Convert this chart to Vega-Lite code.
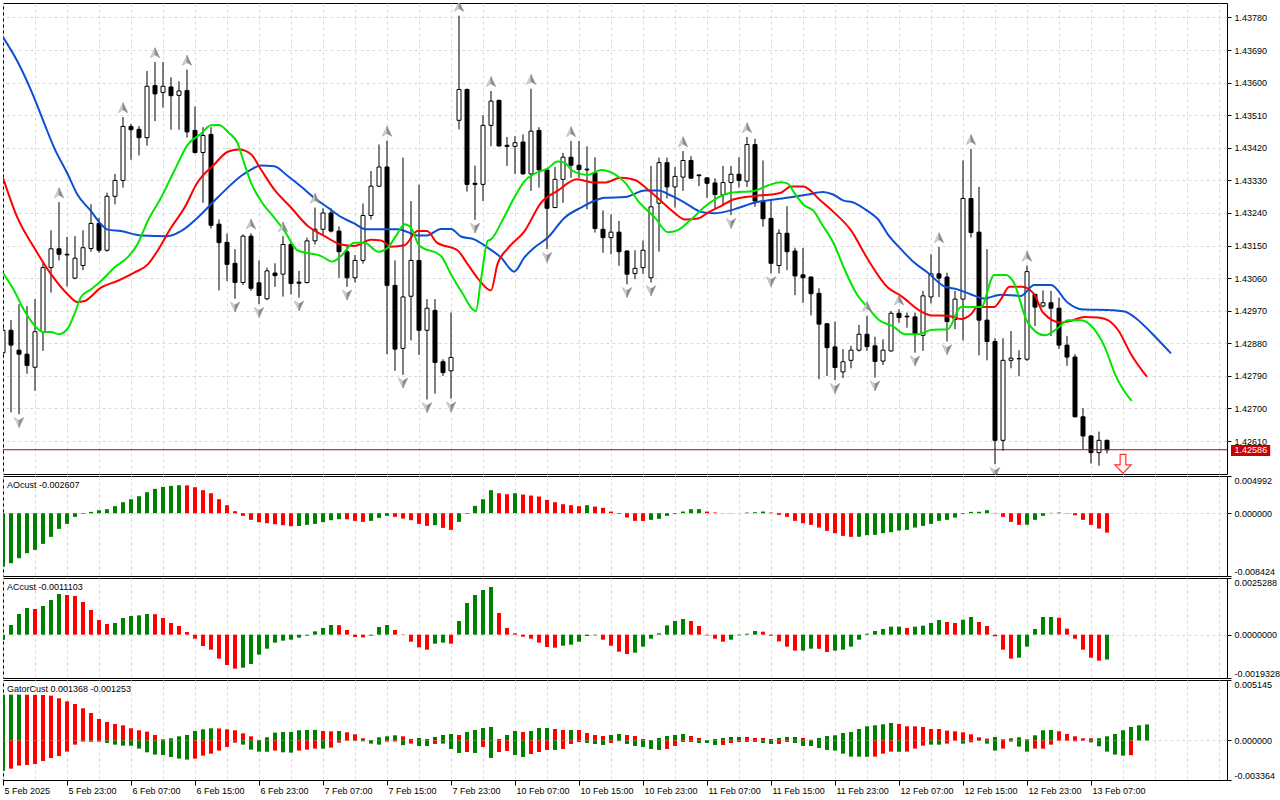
{
  "$schema": "https://vega.github.io/schema/vega-lite/v6.json",
  "background": "white",
  "padding": {"left": 2, "top": 2, "right": 0, "bottom": 0},
  "spacing": 2,
  "bounds": "flush",
  "config": {
    "view": {"stroke": "black", "strokeWidth": 1},
    "font": "Liberation Sans",
    "scale": {"continuousPadding": 0},
    "axis": {"labelFont": "Liberation Sans", "labelFontSize": 9, "labelColor": "black", "tickColor": "black", "gridColor": "#dadada", "gridDash": [3, 3], "labelOverlap": false},
    "text": {"font": "Liberation Sans", "fontSize": 9}
  },
  "resolve": {"scale": {"x": "independent", "y": "independent", "color": "independent"}},
  "datasets": {
    "candles": [
      {"i":0,"o":1.42854,"h":1.42928,"l":1.42841,"c":1.42916},
      {"i":1,"o":1.42916,"h":1.42944,"l":1.42689,"c":1.42875},
      {"i":2,"o":1.42861,"h":1.42988,"l":1.42684,"c":1.42850},
      {"i":3,"o":1.42850,"h":1.42983,"l":1.42796,"c":1.42819},
      {"i":4,"o":1.42814,"h":1.43002,"l":1.42749,"c":1.42912},
      {"i":5,"o":1.42912,"h":1.43107,"l":1.42859,"c":1.43089},
      {"i":6,"o":1.43089,"h":1.43192,"l":1.43020,"c":1.43141},
      {"i":7,"o":1.43141,"h":1.43270,"l":1.43109,"c":1.43126},
      {"i":8,"o":1.43126,"h":1.43174,"l":1.43037,"c":1.43124},
      {"i":9,"o":1.43060,"h":1.43176,"l":1.43057,"c":1.43115},
      {"i":10,"o":1.43095,"h":1.43192,"l":1.43082,"c":1.43144},
      {"i":11,"o":1.43142,"h":1.43264,"l":1.43133,"c":1.43211},
      {"i":12,"o":1.43211,"h":1.43227,"l":1.43130,"c":1.43137},
      {"i":13,"o":1.43137,"h":1.43296,"l":1.43133,"c":1.43286},
      {"i":14,"o":1.43286,"h":1.43348,"l":1.43264,"c":1.43330},
      {"i":15,"o":1.43330,"h":1.43505,"l":1.43310,"c":1.43479},
      {"i":16,"o":1.43479,"h":1.43486,"l":1.43387,"c":1.43470},
      {"i":17,"o":1.43471,"h":1.43480,"l":1.43399,"c":1.43448},
      {"i":18,"o":1.43448,"h":1.43632,"l":1.43426,"c":1.43590},
      {"i":19,"o":1.43592,"h":1.43657,"l":1.43494,"c":1.43569},
      {"i":20,"o":1.43573,"h":1.43657,"l":1.43531,"c":1.43590},
      {"i":21,"o":1.43588,"h":1.43615,"l":1.43470,"c":1.43564},
      {"i":22,"o":1.43565,"h":1.43604,"l":1.43470,"c":1.43577},
      {"i":23,"o":1.43578,"h":1.43636,"l":1.43448,"c":1.43464},
      {"i":24,"o":1.43468,"h":1.43534,"l":1.43404,"c":1.43407},
      {"i":25,"o":1.43407,"h":1.43477,"l":1.43268,"c":1.43454},
      {"i":26,"o":1.43457,"h":1.43477,"l":1.43197,"c":1.43206},
      {"i":27,"o":1.43209,"h":1.43222,"l":1.43026,"c":1.43158},
      {"i":28,"o":1.43159,"h":1.43183,"l":1.43052,"c":1.43098},
      {"i":29,"o":1.43101,"h":1.43140,"l":1.43003,"c":1.43048},
      {"i":30,"o":1.43048,"h":1.43181,"l":1.43041,"c":1.43176},
      {"i":31,"o":1.43176,"h":1.43184,"l":1.43025,"c":1.43032},
      {"i":32,"o":1.43047,"h":1.43109,"l":1.42988,"c":1.43012},
      {"i":33,"o":1.43003,"h":1.43089,"l":1.42999,"c":1.43080},
      {"i":34,"o":1.43074,"h":1.43101,"l":1.43036,"c":1.43067},
      {"i":35,"o":1.43071,"h":1.43176,"l":1.43009,"c":1.43153},
      {"i":36,"o":1.43153,"h":1.43158,"l":1.43015,"c":1.43045},
      {"i":37,"o":1.43049,"h":1.43080,"l":1.43006,"c":1.43046},
      {"i":38,"o":1.43048,"h":1.43172,"l":1.43045,"c":1.43163},
      {"i":39,"o":1.43163,"h":1.43255,"l":1.43153,"c":1.43195},
      {"i":40,"o":1.43195,"h":1.43253,"l":1.43181,"c":1.43240},
      {"i":41,"o":1.43240,"h":1.43253,"l":1.43186,"c":1.43190},
      {"i":42,"o":1.43190,"h":1.43203,"l":1.43061,"c":1.43133},
      {"i":43,"o":1.43133,"h":1.43149,"l":1.43036,"c":1.43061},
      {"i":44,"o":1.43061,"h":1.43124,"l":1.43048,"c":1.43109},
      {"i":45,"o":1.43109,"h":1.43266,"l":1.43100,"c":1.43233},
      {"i":46,"o":1.43233,"h":1.43356,"l":1.43222,"c":1.43314},
      {"i":47,"o":1.43314,"h":1.43429,"l":1.43312,"c":1.43367},
      {"i":48,"o":1.43367,"h":1.43440,"l":1.42850,"c":1.43040},
      {"i":49,"o":1.43040,"h":1.43109,"l":1.42804,"c":1.42864},
      {"i":50,"o":1.42866,"h":1.43393,"l":1.42793,"c":1.43008},
      {"i":51,"o":1.43010,"h":1.43273,"l":1.42888,"c":1.43109},
      {"i":52,"o":1.43109,"h":1.43318,"l":1.42848,"c":1.42916},
      {"i":53,"o":1.42916,"h":1.43002,"l":1.42725,"c":1.42977},
      {"i":54,"o":1.42971,"h":1.43002,"l":1.42741,"c":1.42827},
      {"i":55,"o":1.42829,"h":1.42836,"l":1.42790,"c":1.42799},
      {"i":56,"o":1.42804,"h":1.42965,"l":1.42727,"c":1.42841},
      {"i":57,"o":1.43496,"h":1.43785,"l":1.43471,"c":1.43581},
      {"i":58,"o":1.43581,"h":1.43584,"l":1.43299,"c":1.43319},
      {"i":59,"o":1.43322,"h":1.43371,"l":1.43221,"c":1.43319},
      {"i":60,"o":1.43319,"h":1.43510,"l":1.43273,"c":1.43482},
      {"i":61,"o":1.43482,"h":1.43577,"l":1.43424,"c":1.43549},
      {"i":62,"o":1.43551,"h":1.43553,"l":1.43424,"c":1.43425},
      {"i":63,"o":1.43427,"h":1.43450,"l":1.43370,"c":1.43424},
      {"i":64,"o":1.43424,"h":1.43452,"l":1.43348,"c":1.43434},
      {"i":65,"o":1.43436,"h":1.43457,"l":1.43345,"c":1.43348},
      {"i":66,"o":1.43348,"h":1.43583,"l":1.43301,"c":1.43466},
      {"i":67,"o":1.43468,"h":1.43477,"l":1.43310,"c":1.43359},
      {"i":68,"o":1.43359,"h":1.43361,"l":1.43140,"c":1.43253},
      {"i":69,"o":1.43255,"h":1.43367,"l":1.43253,"c":1.43333},
      {"i":70,"o":1.43333,"h":1.43406,"l":1.43268,"c":1.43394},
      {"i":71,"o":1.43394,"h":1.43439,"l":1.43337,"c":1.43372},
      {"i":72,"o":1.43372,"h":1.43439,"l":1.43337,"c":1.43360},
      {"i":73,"o":1.43361,"h":1.43424,"l":1.43250,"c":1.43359},
      {"i":74,"o":1.43351,"h":1.43394,"l":1.43186,"c":1.43197},
      {"i":75,"o":1.43195,"h":1.43247,"l":1.43130,"c":1.43172},
      {"i":76,"o":1.43172,"h":1.43236,"l":1.43126,"c":1.43187},
      {"i":77,"o":1.43187,"h":1.43218,"l":1.43094,"c":1.43133},
      {"i":78,"o":1.43135,"h":1.43137,"l":1.43043,"c":1.43071},
      {"i":79,"o":1.43073,"h":1.43137,"l":1.43057,"c":1.43087},
      {"i":80,"o":1.43089,"h":1.43164,"l":1.43072,"c":1.43137},
      {"i":81,"o":1.43061,"h":1.43370,"l":1.43048,"c":1.43257},
      {"i":82,"o":1.43267,"h":1.43393,"l":1.43133,"c":1.43379},
      {"i":83,"o":1.43379,"h":1.43393,"l":1.43280,"c":1.43312},
      {"i":84,"o":1.43312,"h":1.43367,"l":1.43255,"c":1.43341},
      {"i":85,"o":1.43339,"h":1.43411,"l":1.43301,"c":1.43385},
      {"i":86,"o":1.43385,"h":1.43397,"l":1.43335,"c":1.43336},
      {"i":87,"o":1.43345,"h":1.43347,"l":1.43314,"c":1.43343},
      {"i":88,"o":1.43337,"h":1.43339,"l":1.43282,"c":1.43322},
      {"i":89,"o":1.43323,"h":1.43336,"l":1.43253,"c":1.43291},
      {"i":90,"o":1.43291,"h":1.43370,"l":1.43259,"c":1.43324},
      {"i":91,"o":1.43324,"h":1.43370,"l":1.43234,"c":1.43347},
      {"i":92,"o":1.43347,"h":1.43394,"l":1.43310,"c":1.43330},
      {"i":93,"o":1.43328,"h":1.43450,"l":1.43312,"c":1.43429},
      {"i":94,"o":1.43429,"h":1.43445,"l":1.43257,"c":1.43273},
      {"i":95,"o":1.43273,"h":1.43385,"l":1.43202,"c":1.43224},
      {"i":96,"o":1.43225,"h":1.43278,"l":1.43073,"c":1.43101},
      {"i":97,"o":1.43095,"h":1.43195,"l":1.43073,"c":1.43184},
      {"i":98,"o":1.43184,"h":1.43259,"l":1.43082,"c":1.43133},
      {"i":99,"o":1.43135,"h":1.43144,"l":1.43013,"c":1.43066},
      {"i":100,"o":1.43069,"h":1.43144,"l":1.42992,"c":1.43061},
      {"i":101,"o":1.43063,"h":1.43065,"l":1.42957,"c":1.43017},
      {"i":102,"o":1.43018,"h":1.43032,"l":1.42781,"c":1.42933},
      {"i":103,"o":1.42934,"h":1.42936,"l":1.42790,"c":1.42868},
      {"i":104,"o":1.42870,"h":1.42940,"l":1.42778,"c":1.42813},
      {"i":105,"o":1.42801,"h":1.42864,"l":1.42784,"c":1.42829},
      {"i":106,"o":1.42833,"h":1.42873,"l":1.42811,"c":1.42861},
      {"i":107,"o":1.42861,"h":1.42931,"l":1.42857,"c":1.42905},
      {"i":108,"o":1.42905,"h":1.42956,"l":1.42859,"c":1.42871},
      {"i":109,"o":1.42873,"h":1.42898,"l":1.42785,"c":1.42830},
      {"i":110,"o":1.42831,"h":1.42891,"l":1.42820,"c":1.42861},
      {"i":111,"o":1.42859,"h":1.42969,"l":1.42857,"c":1.42963},
      {"i":112,"o":1.42963,"h":1.42974,"l":1.42937,"c":1.42951},
      {"i":113,"o":1.42955,"h":1.42965,"l":1.42923,"c":1.42953},
      {"i":114,"o":1.42953,"h":1.42965,"l":1.42854,"c":1.42905},
      {"i":115,"o":1.42902,"h":1.43025,"l":1.42859,"c":1.43011},
      {"i":116,"o":1.43008,"h":1.43126,"l":1.42990,"c":1.43072},
      {"i":117,"o":1.43072,"h":1.43146,"l":1.43008,"c":1.43060},
      {"i":118,"o":1.43063,"h":1.43075,"l":1.42885,"c":1.42940},
      {"i":119,"o":1.42946,"h":1.43025,"l":1.42919,"c":1.43002},
      {"i":120,"o":1.43002,"h":1.43385,"l":1.42888,"c":1.43280},
      {"i":121,"o":1.43280,"h":1.43417,"l":1.43172,"c":1.43186},
      {"i":122,"o":1.43187,"h":1.43312,"l":1.42847,"c":1.42944},
      {"i":123,"o":1.42944,"h":1.43140,"l":1.42833,"c":1.42885},
      {"i":124,"o":1.42885,"h":1.42894,"l":1.42546,"c":1.42612},
      {"i":125,"o":1.42612,"h":1.42894,"l":1.42583,"c":1.42833},
      {"i":126,"o":1.42833,"h":1.42914,"l":1.42811,"c":1.42839},
      {"i":127,"o":1.42838,"h":1.42861,"l":1.42789,"c":1.42837},
      {"i":128,"o":1.42836,"h":1.43095,"l":1.42831,"c":1.43078},
      {"i":129,"o":1.43015,"h":1.43017,"l":1.42928,"c":1.42980},
      {"i":130,"o":1.42983,"h":1.43026,"l":1.42979,"c":1.42992},
      {"i":131,"o":1.42992,"h":1.43025,"l":1.42900,"c":1.42977},
      {"i":132,"o":1.42977,"h":1.43006,"l":1.42864,"c":1.42875},
      {"i":133,"o":1.42875,"h":1.42900,"l":1.42818,"c":1.42842},
      {"i":134,"o":1.42842,"h":1.42850,"l":1.42675,"c":1.42677},
      {"i":135,"o":1.42677,"h":1.42701,"l":1.42588,"c":1.42624},
      {"i":136,"o":1.42624,"h":1.42627,"l":1.42548,"c":1.42578},
      {"i":137,"o":1.42578,"h":1.42636,"l":1.42542,"c":1.42612},
      {"i":138,"o":1.42612,"h":1.42614,"l":1.42576,"c":1.42586}
    ],
    "alligator": [
      {"i":0,"p":1.43726,"s":"jaw"},{"i":1.8,"p":1.43659,"s":"jaw"},{"i":3.9,"p":1.43558,"s":"jaw"},{"i":5.2,"p":1.43485,"s":"jaw"},{"i":6.4,"p":1.43420,"s":"jaw"},{"i":8.1,"p":1.43347,"s":"jaw"},{"i":9.3,"p":1.43291,"s":"jaw"},{"i":11,"p":1.43245,"s":"jaw"},{"i":12.25,"p":1.43209,"s":"jaw"},{"i":13.1,"p":1.43194,"s":"jaw"},{"i":14.75,"p":1.43190,"s":"jaw"},{"i":17.25,"p":1.43178,"s":"jaw"},{"i":20.6,"p":1.43176,"s":"jaw"},{"i":22.25,"p":1.43190,"s":"jaw"},{"i":24.75,"p":1.43236,"s":"jaw"},{"i":26.4,"p":1.43273,"s":"jaw"},{"i":28.1,"p":1.43310,"s":"jaw"},{"i":29.75,"p":1.43342,"s":"jaw"},{"i":31,"p":1.43360,"s":"jaw"},{"i":32.25,"p":1.43371,"s":"jaw"},{"i":33.9,"p":1.43369,"s":"jaw"},{"i":35.6,"p":1.43342,"s":"jaw"},{"i":37.25,"p":1.43313,"s":"jaw"},{"i":38.9,"p":1.43282,"s":"jaw"},{"i":40.6,"p":1.43255,"s":"jaw"},{"i":42.25,"p":1.43229,"s":"jaw"},{"i":43.9,"p":1.43211,"s":"jaw"},{"i":45.4,"p":1.43195,"s":"jaw"},{"i":48.1,"p":1.43195,"s":"jaw"},{"i":49.4,"p":1.43195,"s":"jaw"},{"i":50.6,"p":1.43187,"s":"jaw"},{"i":51.8,"p":1.43178,"s":"jaw"},{"i":53,"p":1.43178,"s":"jaw"},{"i":54.75,"p":1.43196,"s":"jaw"},{"i":56,"p":1.43196,"s":"jaw"},{"i":57.25,"p":1.43175,"s":"jaw"},{"i":58.9,"p":1.43167,"s":"jaw"},{"i":60.6,"p":1.43144,"s":"jaw"},{"i":62.25,"p":1.43117,"s":"jaw"},{"i":63.9,"p":1.43078,"s":"jaw"},{"i":65.2,"p":1.43118,"s":"jaw"},{"i":66.4,"p":1.43144,"s":"jaw"},{"i":68.1,"p":1.43172,"s":"jaw"},{"i":70.2,"p":1.43227,"s":"jaw"},{"i":72.25,"p":1.43255,"s":"jaw"},{"i":73.9,"p":1.43273,"s":"jaw"},{"i":75.2,"p":1.43282,"s":"jaw"},{"i":77.75,"p":1.43284,"s":"jaw"},{"i":80.25,"p":1.43302,"s":"jaw"},{"i":81.9,"p":1.43302,"s":"jaw"},{"i":83.6,"p":1.43287,"s":"jaw"},{"i":85.25,"p":1.43268,"s":"jaw"},{"i":87.25,"p":1.43243,"s":"jaw"},{"i":88.9,"p":1.43239,"s":"jaw"},{"i":90.9,"p":1.43247,"s":"jaw"},{"i":91.8,"p":1.43253,"s":"jaw"},{"i":93.9,"p":1.43268,"s":"jaw"},{"i":98,"p":1.43282,"s":"jaw"},{"i":100.6,"p":1.43291,"s":"jaw"},{"i":102.5,"p":1.43298,"s":"jaw"},{"i":103.75,"p":1.43291,"s":"jaw"},{"i":105,"p":1.43275,"s":"jaw"},{"i":106.4,"p":1.43268,"s":"jaw"},{"i":108.1,"p":1.43245,"s":"jaw"},{"i":109.4,"p":1.43222,"s":"jaw"},{"i":110.6,"p":1.43181,"s":"jaw"},{"i":112.25,"p":1.43140,"s":"jaw"},{"i":113.9,"p":1.43103,"s":"jaw"},{"i":115.6,"p":1.43075,"s":"jaw"},{"i":117.6,"p":1.43038,"s":"jaw"},{"i":119.3,"p":1.43029,"s":"jaw"},{"i":121,"p":1.43015,"s":"jaw"},{"i":122.6,"p":1.43004,"s":"jaw"},{"i":124.75,"p":1.43014,"s":"jaw"},{"i":127.25,"p":1.43011,"s":"jaw"},{"i":128.9,"p":1.43041,"s":"jaw"},{"i":131,"p":1.43041,"s":"jaw"},{"i":133.1,"p":1.42992,"s":"jaw"},{"i":134.75,"p":1.42974,"s":"jaw"},{"i":138.9,"p":1.42971,"s":"jaw"},{"i":140.2,"p":1.42968,"s":"jaw"},{"i":141.8,"p":1.42946,"s":"jaw"},{"i":143.5,"p":1.42910,"s":"jaw"},{"i":146,"p":1.42852,"s":"jaw"},
      {"i":0,"p":1.43337,"s":"teeth"},{"i":1.8,"p":1.43227,"s":"teeth"},{"i":3.9,"p":1.43144,"s":"teeth"},{"i":6,"p":1.43071,"s":"teeth"},{"i":8.1,"p":1.43015,"s":"teeth"},{"i":9.3,"p":1.42994,"s":"teeth"},{"i":10.2,"p":1.42997,"s":"teeth"},{"i":12.25,"p":1.43034,"s":"teeth"},{"i":14.3,"p":1.43052,"s":"teeth"},{"i":16.4,"p":1.43075,"s":"teeth"},{"i":18.1,"p":1.43098,"s":"teeth"},{"i":19.3,"p":1.43135,"s":"teeth"},{"i":21,"p":1.43199,"s":"teeth"},{"i":22.7,"p":1.43255,"s":"teeth"},{"i":24.3,"p":1.43324,"s":"teeth"},{"i":26.4,"p":1.43374,"s":"teeth"},{"i":28.1,"p":1.43409,"s":"teeth"},{"i":29.5,"p":1.43415,"s":"teeth"},{"i":31,"p":1.43402,"s":"teeth"},{"i":32.25,"p":1.43360,"s":"teeth"},{"i":33.9,"p":1.43305,"s":"teeth"},{"i":36,"p":1.43255,"s":"teeth"},{"i":38.1,"p":1.43204,"s":"teeth"},{"i":40.2,"p":1.43176,"s":"teeth"},{"i":42.25,"p":1.43153,"s":"teeth"},{"i":43.9,"p":1.43149,"s":"teeth"},{"i":46,"p":1.43166,"s":"teeth"},{"i":47.25,"p":1.43164,"s":"teeth"},{"i":48.5,"p":1.43147,"s":"teeth"},{"i":50.2,"p":1.43151,"s":"teeth"},{"i":51.8,"p":1.43190,"s":"teeth"},{"i":53,"p":1.43190,"s":"teeth"},{"i":54.25,"p":1.43158,"s":"teeth"},{"i":56.8,"p":1.43137,"s":"teeth"},{"i":58.1,"p":1.43098,"s":"teeth"},{"i":59.3,"p":1.43061,"s":"teeth"},{"i":61,"p":1.43026,"s":"teeth"},{"i":61.8,"p":1.43098,"s":"teeth"},{"i":63.1,"p":1.43142,"s":"teeth"},{"i":65.2,"p":1.43190,"s":"teeth"},{"i":67.25,"p":1.43268,"s":"teeth"},{"i":69.3,"p":1.43301,"s":"teeth"},{"i":71.75,"p":1.43333,"s":"teeth"},{"i":73.9,"p":1.43324,"s":"teeth"},{"i":75.2,"p":1.43324,"s":"teeth"},{"i":77.25,"p":1.43337,"s":"teeth"},{"i":78.9,"p":1.43332,"s":"teeth"},{"i":80.6,"p":1.43305,"s":"teeth"},{"i":82.25,"p":1.43273,"s":"teeth"},{"i":83.9,"p":1.43241,"s":"teeth"},{"i":85.25,"p":1.43222,"s":"teeth"},{"i":86.9,"p":1.43225,"s":"teeth"},{"i":88.1,"p":1.43241,"s":"teeth"},{"i":89.75,"p":1.43259,"s":"teeth"},{"i":91.4,"p":1.43278,"s":"teeth"},{"i":94,"p":1.43287,"s":"teeth"},{"i":96,"p":1.43291,"s":"teeth"},{"i":97.25,"p":1.43296,"s":"teeth"},{"i":98.5,"p":1.43313,"s":"teeth"},{"i":100,"p":1.43313,"s":"teeth"},{"i":102.25,"p":1.43273,"s":"teeth"},{"i":103.9,"p":1.43241,"s":"teeth"},{"i":106,"p":1.43192,"s":"teeth"},{"i":108.1,"p":1.43112,"s":"teeth"},{"i":110.6,"p":1.43034,"s":"teeth"},{"i":112.25,"p":1.43011,"s":"teeth"},{"i":114.75,"p":1.42968,"s":"teeth"},{"i":116,"p":1.42957,"s":"teeth"},{"i":118.1,"p":1.42956,"s":"teeth"},{"i":119.75,"p":1.42947,"s":"teeth"},{"i":121,"p":1.42960,"s":"teeth"},{"i":121.8,"p":1.42980,"s":"teeth"},{"i":123.9,"p":1.42980,"s":"teeth"},{"i":124.75,"p":1.43002,"s":"teeth"},{"i":125.8,"p":1.43036,"s":"teeth"},{"i":127.4,"p":1.43036,"s":"teeth"},{"i":128.9,"p":1.43015,"s":"teeth"},{"i":130,"p":1.42965,"s":"teeth"},{"i":132.25,"p":1.42937,"s":"teeth"},{"i":133.5,"p":1.42942,"s":"teeth"},{"i":135.2,"p":1.42953,"s":"teeth"},{"i":136.9,"p":1.42951,"s":"teeth"},{"i":138.1,"p":1.42944,"s":"teeth"},{"i":139.4,"p":1.42916,"s":"teeth"},{"i":141,"p":1.42850,"s":"teeth"},{"i":143,"p":1.42787,"s":"teeth"},
      {"i":0,"p":1.43075,"s":"lips"},{"i":1.4,"p":1.43025,"s":"lips"},{"i":2.7,"p":1.42969,"s":"lips"},{"i":4,"p":1.42928,"s":"lips"},{"i":5,"p":1.42911,"s":"lips"},{"i":6,"p":1.42911,"s":"lips"},{"i":7,"p":1.42905,"s":"lips"},{"i":8.1,"p":1.42921,"s":"lips"},{"i":9,"p":1.42965,"s":"lips"},{"i":9.75,"p":1.43008,"s":"lips"},{"i":11,"p":1.43029,"s":"lips"},{"i":12.25,"p":1.43052,"s":"lips"},{"i":13.9,"p":1.43089,"s":"lips"},{"i":15.6,"p":1.43118,"s":"lips"},{"i":16.8,"p":1.43153,"s":"lips"},{"i":18.1,"p":1.43218,"s":"lips"},{"i":19.75,"p":1.43282,"s":"lips"},{"i":21.4,"p":1.43356,"s":"lips"},{"i":23.1,"p":1.43429,"s":"lips"},{"i":24.75,"p":1.43459,"s":"lips"},{"i":26,"p":1.43482,"s":"lips"},{"i":27,"p":1.43483,"s":"lips"},{"i":28.2,"p":1.43462,"s":"lips"},{"i":29.3,"p":1.43434,"s":"lips"},{"i":30.2,"p":1.43374,"s":"lips"},{"i":31,"p":1.43324,"s":"lips"},{"i":32.25,"p":1.43273,"s":"lips"},{"i":33.9,"p":1.43227,"s":"lips"},{"i":35.2,"p":1.43190,"s":"lips"},{"i":36.8,"p":1.43137,"s":"lips"},{"i":39.75,"p":1.43121,"s":"lips"},{"i":41.2,"p":1.43106,"s":"lips"},{"i":42.25,"p":1.43121,"s":"lips"},{"i":43.9,"p":1.43158,"s":"lips"},{"i":45.2,"p":1.43158,"s":"lips"},{"i":46.9,"p":1.43133,"s":"lips"},{"i":48.1,"p":1.43144,"s":"lips"},{"i":49.1,"p":1.43176,"s":"lips"},{"i":50.2,"p":1.43209,"s":"lips"},{"i":51,"p":1.43199,"s":"lips"},{"i":52,"p":1.43151,"s":"lips"},{"i":54.75,"p":1.43121,"s":"lips"},{"i":56,"p":1.43071,"s":"lips"},{"i":57.25,"p":1.43025,"s":"lips"},{"i":59.1,"p":1.42969,"s":"lips"},{"i":59.75,"p":1.43057,"s":"lips"},{"i":60.6,"p":1.43163,"s":"lips"},{"i":61,"p":1.43167,"s":"lips"},{"i":62.6,"p":1.43227,"s":"lips"},{"i":63.9,"p":1.43282,"s":"lips"},{"i":65.2,"p":1.43328,"s":"lips"},{"i":66.4,"p":1.43348,"s":"lips"},{"i":68.1,"p":1.43363,"s":"lips"},{"i":69.3,"p":1.43382,"s":"lips"},{"i":70.2,"p":1.43379,"s":"lips"},{"i":71.2,"p":1.43356,"s":"lips"},{"i":73.1,"p":1.43345,"s":"lips"},{"i":74.75,"p":1.43359,"s":"lips"},{"i":76.4,"p":1.43348,"s":"lips"},{"i":77.75,"p":1.43324,"s":"lips"},{"i":79.4,"p":1.43273,"s":"lips"},{"i":81.5,"p":1.43227,"s":"lips"},{"i":83.1,"p":1.43187,"s":"lips"},{"i":84.3,"p":1.43192,"s":"lips"},{"i":86,"p":1.43222,"s":"lips"},{"i":87.6,"p":1.43255,"s":"lips"},{"i":89.3,"p":1.43282,"s":"lips"},{"i":91,"p":1.43296,"s":"lips"},{"i":93.9,"p":1.43301,"s":"lips"},{"i":95.6,"p":1.43316,"s":"lips"},{"i":97.25,"p":1.43325,"s":"lips"},{"i":98.1,"p":1.43321,"s":"lips"},{"i":98.9,"p":1.43296,"s":"lips"},{"i":100.1,"p":1.43262,"s":"lips"},{"i":101.4,"p":1.43244,"s":"lips"},{"i":102.25,"p":1.43213,"s":"lips"},{"i":103.9,"p":1.43153,"s":"lips"},{"i":105.1,"p":1.43089,"s":"lips"},{"i":106.75,"p":1.43015,"s":"lips"},{"i":108.1,"p":1.42979,"s":"lips"},{"i":109.4,"p":1.42946,"s":"lips"},{"i":111.4,"p":1.42925,"s":"lips"},{"i":112.75,"p":1.42905,"s":"lips"},{"i":114.4,"p":1.42905,"s":"lips"},{"i":116,"p":1.42917,"s":"lips"},{"i":118.1,"p":1.42919,"s":"lips"},{"i":119.75,"p":1.42980,"s":"lips"},{"i":122.25,"p":1.42980,"s":"lips"},{"i":123.9,"p":1.43069,"s":"lips"},{"i":125.4,"p":1.43069,"s":"lips"},{"i":126.25,"p":1.43052,"s":"lips"},{"i":128.1,"p":1.42937,"s":"lips"},{"i":130.2,"p":1.42902,"s":"lips"},{"i":131.9,"p":1.42923,"s":"lips"},{"i":133.1,"p":1.42944,"s":"lips"},{"i":134.75,"p":1.42944,"s":"lips"},{"i":136.4,"p":1.42919,"s":"lips"},{"i":137.75,"p":1.42868,"s":"lips"},{"i":139,"p":1.42795,"s":"lips"},{"i":140,"p":1.42753,"s":"lips"},{"i":141.1,"p":1.42721,"s":"lips"}
    ],
    "fractals": [
      {"i":7,"p":1.43270,"t":"u"},{"i":15,"p":1.43505,"t":"u"},{"i":19,"p":1.43657,"t":"u"},{"i":23,"p":1.43636,"t":"u"},{"i":31,"p":1.43184,"t":"u"},{"i":35,"p":1.43176,"t":"u"},{"i":39,"p":1.43255,"t":"u"},{"i":48,"p":1.43440,"t":"u"},{"i":57,"p":1.43785,"t":"u"},{"i":61,"p":1.43577,"t":"u"},{"i":66,"p":1.43583,"t":"u"},{"i":71,"p":1.43439,"t":"u"},{"i":85,"p":1.43411,"t":"u"},{"i":93,"p":1.43450,"t":"u"},{"i":108,"p":1.42956,"t":"u"},{"i":112,"p":1.42974,"t":"u"},{"i":117,"p":1.43146,"t":"u"},{"i":121,"p":1.43417,"t":"u"},{"i":128,"p":1.43095,"t":"u"},
      {"i":2,"p":1.42684,"t":"d"},{"i":29,"p":1.43003,"t":"d"},{"i":32,"p":1.42988,"t":"d"},{"i":37,"p":1.43006,"t":"d"},{"i":43,"p":1.43036,"t":"d"},{"i":50,"p":1.42793,"t":"d"},{"i":53,"p":1.42725,"t":"d"},{"i":56,"p":1.42727,"t":"d"},{"i":59,"p":1.43221,"t":"d"},{"i":68,"p":1.43140,"t":"d"},{"i":78,"p":1.43043,"t":"d"},{"i":81,"p":1.43048,"t":"d"},{"i":91,"p":1.43234,"t":"d"},{"i":96,"p":1.43073,"t":"d"},{"i":104,"p":1.42778,"t":"d"},{"i":109,"p":1.42785,"t":"d"},{"i":114,"p":1.42854,"t":"d"},{"i":118,"p":1.42885,"t":"d"},{"i":124,"p":1.42546,"t":"d"}
    ],
    "signal": [{"i":140,"p":1.42547}],
    "ao": [
      {"i":0,"v":-0.007155,"d":"g"},{"i":1,"v":-0.006708,"d":"g"},{"i":2,"v":-0.006037,"d":"g"},{"i":3,"v":-0.005366,"d":"g"},{"i":4,"v":-0.004919,"d":"g"},{"i":5,"v":-0.004114,"d":"g"},{"i":6,"v":-0.003175,"d":"g"},{"i":7,"v":-0.002102,"d":"g"},{"i":8,"v":-0.001431,"d":"g"},{"i":9,"v":-0.000492,"d":"g"},
      {"i":10,"v":-0.000089,"d":"g"},{"i":11,"v":0.000179,"d":"g"},{"i":12,"v":0.000402,"d":"g"},{"i":13,"v":0.000537,"d":"g"},{"i":14,"v":0.000939,"d":"g"},{"i":15,"v":0.001476,"d":"g"},{"i":16,"v":0.001878,"d":"g"},{"i":17,"v":0.002281,"d":"g"},{"i":18,"v":0.002817,"d":"g"},{"i":19,"v":0.003265,"d":"g"},
      {"i":20,"v":0.003533,"d":"g"},{"i":21,"v":0.003667,"d":"g"},{"i":22,"v":0.003756,"d":"g"},{"i":23,"v":0.00374,"d":"r"},{"i":24,"v":0.003488,"d":"r"},{"i":25,"v":0.003086,"d":"r"},{"i":26,"v":0.002683,"d":"r"},{"i":27,"v":0.001878,"d":"r"},{"i":28,"v":0.001073,"d":"r"},{"i":29,"v":0.000268,"d":"r"},
      {"i":30,"v":-0.000358,"d":"r"},{"i":31,"v":-0.000894,"d":"r"},{"i":32,"v":-0.001207,"d":"r"},{"i":33,"v":-0.001342,"d":"r"},{"i":34,"v":-0.001476,"d":"r"},{"i":35,"v":-0.00161,"d":"r"},{"i":36,"v":-0.001744,"d":"r"},{"i":37,"v":-0.00172,"d":"g"},{"i":38,"v":-0.001565,"d":"g"},{"i":39,"v":-0.001431,"d":"g"},
      {"i":40,"v":-0.001207,"d":"g"},{"i":41,"v":-0.000939,"d":"g"},{"i":42,"v":-0.000805,"d":"g"},{"i":43,"v":-0.00082,"d":"r"},{"i":44,"v":-0.001029,"d":"r"},{"i":45,"v":-0.001163,"d":"r"},{"i":46,"v":-0.001029,"d":"g"},{"i":47,"v":-0.000626,"d":"g"},{"i":48,"v":-0.000358,"d":"g"},{"i":49,"v":-0.000492,"d":"r"},
      {"i":50,"v":-0.000716,"d":"r"},{"i":51,"v":-0.000939,"d":"r"},{"i":52,"v":-0.001431,"d":"r"},{"i":53,"v":-0.001699,"d":"r"},{"i":54,"v":-0.00161,"d":"g"},{"i":55,"v":-0.001968,"d":"r"},{"i":56,"v":-0.002236,"d":"r"},{"i":57,"v":-0.001163,"d":"g"},{"i":58,"v":-0.000089,"d":"g"},{"i":59,"v":0.000984,"d":"g"},
      {"i":60,"v":0.001878,"d":"g"},{"i":61,"v":0.003086,"d":"g"},{"i":62,"v":0.002683,"d":"r"},{"i":63,"v":0.002549,"d":"r"},{"i":64,"v":0.002683,"d":"g"},{"i":65,"v":0.002504,"d":"r"},{"i":66,"v":0.00237,"d":"r"},{"i":67,"v":0.002236,"d":"r"},{"i":68,"v":0.001789,"d":"r"},{"i":69,"v":0.001476,"d":"r"},
      {"i":70,"v":0.001207,"d":"r"},{"i":71,"v":0.001073,"d":"r"},{"i":72,"v":0.000939,"d":"r"},{"i":73,"v":0.001073,"d":"g"},{"i":74,"v":0.000894,"d":"r"},{"i":75,"v":0.000716,"d":"r"},{"i":76,"v":0.000224,"d":"r"},{"i":77,"v":-0.000089,"d":"r"},{"i":78,"v":-0.000581,"d":"r"},{"i":79,"v":-0.001029,"d":"r"},
      {"i":80,"v":-0.00104,"d":"r"},{"i":81,"v":-0.000894,"d":"g"},{"i":82,"v":-0.00076,"d":"g"},{"i":83,"v":-0.000358,"d":"g"},{"i":84,"v":-0.000089,"d":"g"},{"i":85,"v":0.000224,"d":"g"},{"i":86,"v":0.000537,"d":"g"},{"i":87,"v":0.00055,"d":"g"},{"i":88,"v":0.000224,"d":"r"},{"i":89,"v":0.000089,"d":"r"},
      {"i":90,"v":0.00002,"d":"r"},{"i":91,"v":-0.00003,"d":"r"},{"i":92,"v":-0.00001,"d":"g"},{"i":93,"v":0.000089,"d":"g"},{"i":94,"v":0.000134,"d":"g"},{"i":95,"v":0.000224,"d":"g"},{"i":96,"v":0.000089,"d":"r"},{"i":97,"v":-0.000224,"d":"r"},{"i":98,"v":-0.000492,"d":"r"},{"i":99,"v":-0.001029,"d":"r"},
      {"i":100,"v":-0.001342,"d":"r"},{"i":101,"v":-0.001565,"d":"r"},{"i":102,"v":-0.001923,"d":"r"},{"i":103,"v":-0.00237,"d":"r"},{"i":104,"v":-0.002683,"d":"r"},{"i":105,"v":-0.003041,"d":"r"},{"i":106,"v":-0.003175,"d":"r"},{"i":107,"v":-0.00316,"d":"g"},{"i":108,"v":-0.002952,"d":"g"},{"i":109,"v":-0.002907,"d":"g"},
      {"i":110,"v":-0.002683,"d":"g"},{"i":111,"v":-0.002549,"d":"g"},{"i":112,"v":-0.002325,"d":"g"},{"i":113,"v":-0.002236,"d":"g"},{"i":114,"v":-0.001923,"d":"g"},{"i":115,"v":-0.001699,"d":"g"},{"i":116,"v":-0.001431,"d":"g"},{"i":117,"v":-0.001029,"d":"g"},{"i":118,"v":-0.000894,"d":"g"},{"i":119,"v":-0.000581,"d":"g"},
      {"i":120,"v":-0.000089,"d":"g"},{"i":121,"v":0.000179,"d":"g"},{"i":122,"v":0.00019,"d":"g"},{"i":123,"v":0.000402,"d":"g"},{"i":124,"v":0.000045,"d":"r"},{"i":125,"v":-0.000492,"d":"r"},{"i":126,"v":-0.001163,"d":"r"},{"i":127,"v":-0.001565,"d":"r"},{"i":128,"v":-0.00155,"d":"g"},{"i":129,"v":-0.000894,"d":"g"},
      {"i":130,"v":-0.000358,"d":"g"},{"i":131,"v":0.000045,"d":"g"},{"i":132,"v":0.000089,"d":"g"},{"i":133,"v":-0.000045,"d":"r"},{"i":134,"v":-0.000268,"d":"r"},{"i":135,"v":-0.000894,"d":"r"},{"i":136,"v":-0.001565,"d":"r"},{"i":137,"v":-0.002057,"d":"r"},{"i":138,"v":-0.002607,"d":"r"}
    ],
    "ac": [
      {"i":0,"v":-0.0002231,"d":"g"},{"i":1,"v":0.0004313,"d":"g"},{"i":2,"v":0.0009221,"d":"g"},{"i":3,"v":0.0011898,"d":"g"},{"i":4,"v":0.0011451,"d":"r"},{"i":5,"v":0.001279,"d":"g"},{"i":6,"v":0.0015467,"d":"g"},{"i":7,"v":0.0018144,"d":"g"},{"i":8,"v":0.0017698,"d":"r"},{"i":9,"v":0.0017252,"d":"r"},
      {"i":10,"v":0.0014575,"d":"r"},{"i":11,"v":0.0011005,"d":"r"},{"i":12,"v":0.0006544,"d":"r"},{"i":13,"v":0.0004759,"d":"r"},{"i":14,"v":0.0005205,"d":"g"},{"i":15,"v":0.0007436,"d":"g"},{"i":16,"v":0.0008328,"d":"g"},{"i":17,"v":0.0008626,"d":"g"},{"i":18,"v":0.0009221,"d":"g"},{"i":19,"v":0.000915,"d":"r"},
      {"i":20,"v":0.0007436,"d":"r"},{"i":21,"v":0.0005205,"d":"r"},{"i":22,"v":0.0003867,"d":"r"},{"i":23,"v":0.000119,"d":"r"},{"i":24,"v":-0.0001785,"d":"r"},{"i":25,"v":-0.0005056,"d":"r"},{"i":26,"v":-0.0006692,"d":"r"},{"i":27,"v":-0.0010708,"d":"r"},{"i":28,"v":-0.0013534,"d":"r"},{"i":29,"v":-0.0015169,"d":"r"},
      {"i":30,"v":-0.0014723,"d":"g"},{"i":31,"v":-0.0013087,"d":"g"},{"i":32,"v":-0.0008923,"d":"g"},{"i":33,"v":-0.0006246,"d":"g"},{"i":34,"v":-0.0003569,"d":"g"},{"i":35,"v":-0.0002677,"d":"g"},{"i":36,"v":-0.0002231,"d":"g"},{"i":37,"v":-0.0001338,"d":"g"},{"i":38,"v":-0.0000446,"d":"g"},{"i":39,"v":0.0001487,"d":"g"},
      {"i":40,"v":0.0002974,"d":"g"},{"i":41,"v":0.0004313,"d":"g"},{"i":42,"v":0.000425,"d":"r"},{"i":43,"v":0.0002082,"d":"r"},{"i":44,"v":-0.0001041,"d":"r"},{"i":45,"v":-0.000119,"d":"r"},{"i":46,"v":-0.0000446,"d":"g"},{"i":47,"v":0.0003421,"d":"g"},{"i":48,"v":0.0004313,"d":"g"},{"i":49,"v":0.0002082,"d":"r"},
      {"i":50,"v":0.0000149,"d":"r"},{"i":51,"v":-0.0003123,"d":"r"},{"i":52,"v":-0.0005651,"d":"r"},{"i":53,"v":-0.0006692,"d":"r"},{"i":54,"v":-0.0004015,"d":"g"},{"i":55,"v":-0.0003569,"d":"g"},{"i":56,"v":-0.0004015,"d":"r"},{"i":57,"v":0.0006098,"d":"g"},{"i":58,"v":0.0014128,"d":"g"},{"i":59,"v":0.0017698,"d":"g"},
      {"i":60,"v":0.0019928,"d":"g"},{"i":61,"v":0.0021267,"d":"g"},{"i":62,"v":0.0009667,"d":"r"},{"i":63,"v":0.0002974,"d":"r"},{"i":64,"v":0.0000595,"d":"r"},{"i":65,"v":-0.0000892,"d":"r"},{"i":66,"v":-0.0001785,"d":"r"},{"i":67,"v":-0.0003569,"d":"r"},{"i":68,"v":-0.0005503,"d":"r"},{"i":69,"v":-0.00058,"d":"r"},
      {"i":70,"v":-0.0004908,"d":"g"},{"i":71,"v":-0.0004462,"d":"g"},{"i":72,"v":-0.0003123,"d":"g"},{"i":73,"v":-0.0000595,"d":"g"},{"i":74,"v":-0.0000297,"d":"g"},{"i":75,"v":-0.0002231,"d":"r"},{"i":76,"v":-0.0004908,"d":"r"},{"i":77,"v":-0.0007585,"d":"r"},{"i":78,"v":-0.0008626,"d":"r"},{"i":79,"v":-0.0008031,"d":"g"},
      {"i":80,"v":-0.0005354,"d":"g"},{"i":81,"v":-0.0001785,"d":"g"},{"i":82,"v":0.0000595,"d":"g"},{"i":83,"v":0.0004164,"d":"g"},{"i":84,"v":0.0006098,"d":"g"},{"i":85,"v":0.000699,"d":"g"},{"i":86,"v":0.0006098,"d":"r"},{"i":87,"v":0.0003867,"d":"r"},{"i":88,"v":-0.0000297,"d":"r"},{"i":89,"v":-0.0001785,"d":"r"},
      {"i":90,"v":-0.0003123,"d":"r"},{"i":91,"v":-0.0002231,"d":"g"},{"i":92,"v":-0.0000297,"d":"g"},{"i":93,"v":0.0000446,"d":"g"},{"i":94,"v":0.0001636,"d":"g"},{"i":95,"v":0.000134,"d":"r"},{"i":96,"v":-0.0000446,"d":"r"},{"i":97,"v":-0.0002974,"d":"r"},{"i":98,"v":-0.0005354,"d":"r"},{"i":99,"v":-0.0007139,"d":"r"},
      {"i":100,"v":-0.00071,"d":"g"},{"i":101,"v":-0.0006246,"d":"g"},{"i":102,"v":-0.00063,"d":"r"},{"i":103,"v":-0.0007733,"d":"r"},{"i":104,"v":-0.0007139,"d":"g"},{"i":105,"v":-0.0006692,"d":"g"},{"i":106,"v":-0.0005354,"d":"g"},{"i":107,"v":-0.0002231,"d":"g"},{"i":108,"v":0.0000446,"d":"g"},{"i":109,"v":0.0001636,"d":"g"},
      {"i":110,"v":0.0002528,"d":"g"},{"i":111,"v":0.0003569,"d":"g"},{"i":112,"v":0.00036,"d":"g"},{"i":113,"v":0.0002974,"d":"r"},{"i":114,"v":0.0003569,"d":"g"},{"i":115,"v":0.0004015,"d":"g"},{"i":116,"v":0.0005205,"d":"g"},{"i":117,"v":0.0006544,"d":"g"},{"i":118,"v":0.0005651,"d":"r"},{"i":119,"v":0.0005205,"d":"r"},
      {"i":120,"v":0.0006692,"d":"g"},{"i":121,"v":0.0007882,"d":"g"},{"i":122,"v":0.0005651,"d":"r"},{"i":123,"v":0.0003867,"d":"r"},{"i":124,"v":-0.0000744,"d":"r"},{"i":125,"v":-0.0006692,"d":"r"},{"i":126,"v":-0.0010708,"d":"r"},{"i":127,"v":-0.0010262,"d":"g"},{"i":128,"v":-0.0005354,"d":"g"},{"i":129,"v":0.0002528,"d":"g"},
      {"i":130,"v":0.0007882,"d":"g"},{"i":131,"v":0.00079,"d":"g"},{"i":132,"v":0.0007585,"d":"r"},{"i":133,"v":0.0002677,"d":"r"},{"i":134,"v":-0.0001785,"d":"r"},{"i":135,"v":-0.0006692,"d":"r"},{"i":136,"v":-0.0010262,"d":"r"},{"i":137,"v":-0.00116,"d":"r"},{"i":138,"v":-0.0011103,"d":"g"}
    ],
    "gator": [
      {"i":0,"u":0.0039,"cu":"g","l":-0.002567,"cl":"g"},{"i":1,"u":0.0039,"cu":"g","l":-0.002397,"cl":"r"},{"i":2,"u":0.0039,"cu":"g","l":-0.002141,"cl":"r"},{"i":3,"u":0.00389,"cu":"r","l":-0.002085,"cl":"r"},{"i":4,"u":0.00388,"cu":"r","l":-0.002,"cl":"r"},
      {"i":5,"u":0.00387,"cu":"r","l":-0.001744,"cl":"r"},{"i":6,"u":0.003815,"cu":"r","l":-0.00149,"cl":"r"},{"i":7,"u":0.003588,"cu":"r","l":-0.001319,"cl":"r"},{"i":8,"u":0.003333,"cu":"r","l":-0.00095,"cl":"r"},{"i":9,"u":0.003106,"cu":"r","l":-0.000355,"cl":"r"},
      {"i":10,"u":0.002737,"cu":"r","l":-0.000099,"cl":"r"},{"i":11,"u":0.00234,"cu":"r","l":-0.00011,"cl":"g"},{"i":12,"u":0.001829,"cu":"r","l":-0.0001,"cl":"r"},{"i":13,"u":0.001574,"cu":"r","l":-0.000213,"cl":"g"},{"i":14,"u":0.001404,"cu":"r","l":-0.000355,"cl":"g"},
      {"i":15,"u":0.001291,"cu":"r","l":-0.00044,"cl":"g"},{"i":16,"u":0.001035,"cu":"r","l":-0.00045,"cl":"g"},{"i":17,"u":0.000865,"cu":"r","l":-0.000695,"cl":"g"},{"i":18,"u":0.000752,"cu":"r","l":-0.001007,"cl":"g"},{"i":19,"u":0.000468,"cu":"r","l":-0.001205,"cl":"g"},
      {"i":20,"u":0.000099,"cu":"r","l":-0.001234,"cl":"g"},{"i":21,"u":0.000184,"cu":"g","l":-0.001404,"cl":"g"},{"i":22,"u":0.000355,"cu":"g","l":-0.001546,"cl":"g"},{"i":23,"u":0.000468,"cu":"g","l":-0.001631,"cl":"g"},{"i":24,"u":0.000808,"cu":"g","l":-0.001546,"cl":"r"},
      {"i":25,"u":0.00095,"cu":"g","l":-0.00129,"cl":"r"},{"i":26,"u":0.001035,"cu":"g","l":-0.00112,"cl":"r"},{"i":27,"u":0.00102,"cu":"r","l":-0.000865,"cl":"r"},{"i":28,"u":0.00095,"cu":"r","l":-0.000553,"cl":"r"},{"i":29,"u":0.000865,"cu":"r","l":-0.000184,"cl":"r"},
      {"i":30,"u":0.00061,"cu":"r","l":-0.000355,"cl":"g"},{"i":31,"u":0.000355,"cu":"r","l":-0.00078,"cl":"g"},{"i":32,"u":0.00005,"cu":"r","l":-0.00095,"cl":"g"},{"i":33,"u":0.000269,"cu":"g","l":-0.00096,"cl":"g"},{"i":34,"u":0.000667,"cu":"g","l":-0.000865,"cl":"r"},
      {"i":35,"u":0.000723,"cu":"g","l":-0.001007,"cl":"g"},{"i":36,"u":0.00073,"cu":"g","l":-0.001035,"cl":"g"},{"i":37,"u":0.000865,"cu":"g","l":-0.000865,"cl":"r"},{"i":38,"u":0.000893,"cu":"g","l":-0.00078,"cl":"r"},{"i":39,"u":0.0009,"cu":"g","l":-0.000695,"cl":"r"},
      {"i":40,"u":0.000808,"cu":"r","l":-0.0007,"cl":"g"},{"i":41,"u":0.00078,"cu":"r","l":-0.00061,"cl":"r"},{"i":42,"u":0.000808,"cu":"g","l":-0.000184,"cl":"r"},{"i":43,"u":0.000695,"cu":"r","l":-0.00002,"cl":"r"},{"i":44,"u":0.000525,"cu":"r","l":-0.00004,"cl":"g"},
      {"i":45,"u":0.000184,"cu":"r","l":-0.000071,"cl":"g"},{"i":46,"u":0.00003,"cu":"r","l":-0.000269,"cl":"g"},{"i":47,"u":0.000269,"cu":"g","l":-0.000355,"cl":"g"},{"i":48,"u":0.000355,"cu":"g","l":-0.000099,"cl":"r"},{"i":49,"u":0.00044,"cu":"g","l":-0.00009,"cl":"r"},
      {"i":50,"u":0.000355,"cu":"r","l":-0.0004,"cl":"g"},{"i":51,"u":0.000128,"cu":"r","l":-0.000269,"cl":"r"},{"i":52,"u":0.000213,"cu":"g","l":-0.000468,"cl":"g"},{"i":53,"u":0.000128,"cu":"r","l":-0.000468,"cl":"g"},{"i":54,"u":0.000298,"cu":"g","l":-0.000298,"cl":"r"},
      {"i":55,"u":0.000468,"cu":"g","l":-0.000269,"cl":"g"},{"i":56,"u":0.000553,"cu":"g","l":-0.000723,"cl":"g"},{"i":57,"u":0.000468,"cu":"r","l":-0.001063,"cl":"g"},{"i":58,"u":0.000723,"cu":"g","l":-0.000978,"cl":"r"},{"i":59,"u":0.000893,"cu":"g","l":-0.001063,"cl":"g"},
      {"i":60,"u":0.001063,"cu":"g","l":-0.000553,"cl":"r"},{"i":61,"u":0.001149,"cu":"g","l":-0.001489,"cl":"g"},{"i":62,"u":0.000128,"cu":"r","l":-0.000978,"cl":"r"},{"i":63,"u":0.000468,"cu":"g","l":-0.000893,"cl":"r"},{"i":64,"u":0.000808,"cu":"g","l":-0.001234,"cl":"g"},
      {"i":65,"u":0.000723,"cu":"r","l":-0.001404,"cl":"g"},{"i":66,"u":0.000808,"cu":"g","l":-0.001149,"cl":"r"},{"i":67,"u":0.001063,"cu":"g","l":-0.000978,"cl":"r"},{"i":68,"u":0.001063,"cu":"g","l":-0.000808,"cl":"r"},{"i":69,"u":0.000978,"cu":"r","l":-0.000808,"cl":"g"},
      {"i":70,"u":0.000893,"cu":"r","l":-0.000723,"cl":"r"},{"i":71,"u":0.000893,"cu":"g","l":-0.000298,"cl":"r"},{"i":72,"u":0.000893,"cu":"r","l":-0.000128,"cl":"r"},{"i":73,"u":0.000638,"cu":"r","l":-0.000213,"cl":"g"},{"i":74,"u":0.000468,"cu":"r","l":-0.000298,"cl":"g"},
      {"i":75,"u":0.000383,"cu":"r","l":-0.000383,"cl":"g"},{"i":76,"u":0.000468,"cu":"g","l":-0.000213,"cl":"r"},{"i":77,"u":0.000553,"cu":"g","l":-0.00006,"cl":"g"},{"i":78,"u":0.000468,"cu":"r","l":-0.000298,"cl":"g"},{"i":79,"u":0.000383,"cu":"r","l":-0.000468,"cl":"g"},
      {"i":80,"u":0.000128,"cu":"r","l":-0.000553,"cl":"g"},{"i":81,"u":0.00004,"cu":"g","l":-0.000723,"cl":"g"},{"i":82,"u":0.000213,"cu":"g","l":-0.000808,"cl":"g"},{"i":83,"u":0.000383,"cu":"g","l":-0.000723,"cl":"r"},{"i":84,"u":0.000468,"cu":"g","l":-0.000468,"cl":"r"},
      {"i":85,"u":0.000553,"cu":"g","l":-0.000128,"cl":"r"},{"i":86,"u":0.000383,"cu":"r","l":-0.000128,"cl":"r"},{"i":87,"u":0.000213,"cu":"r","l":-0.000213,"cl":"g"},{"i":88,"u":0.00004,"cu":"g","l":-0.000213,"cl":"g"},{"i":89,"u":0.000128,"cu":"g","l":-0.000383,"cl":"g"},
      {"i":90,"u":0.000213,"cu":"g","l":-0.000383,"cl":"r"},{"i":91,"u":0.000298,"cu":"g","l":-0.000213,"cl":"r"},{"i":92,"u":0.000298,"cu":"g","l":-0.000128,"cl":"r"},{"i":93,"u":0.000298,"cu":"r","l":-0.000128,"cl":"r"},{"i":94,"u":0.000213,"cu":"r","l":-0.000128,"cl":"r"},
      {"i":95,"u":0.000213,"cu":"r","l":-0.000213,"cl":"g"},{"i":96,"u":0.000128,"cu":"r","l":-0.000298,"cl":"g"},{"i":97,"u":0.000213,"cu":"g","l":-0.000298,"cl":"r"},{"i":98,"u":0.000298,"cu":"g","l":-0.000128,"cl":"r"},{"i":99,"u":0.000298,"cu":"g","l":-0.000213,"cl":"g"},
      {"i":100,"u":0.000213,"cu":"r","l":-0.000468,"cl":"g"},{"i":101,"u":0.00006,"cu":"r","l":-0.000468,"cl":"g"},{"i":102,"u":0.000213,"cu":"g","l":-0.000638,"cl":"g"},{"i":103,"u":0.000383,"cu":"g","l":-0.000808,"cl":"g"},{"i":104,"u":0.00044,"cu":"g","l":-0.000865,"cl":"g"},
      {"i":105,"u":0.000638,"cu":"g","l":-0.00112,"cl":"g"},{"i":106,"u":0.000723,"cu":"g","l":-0.001376,"cl":"g"},{"i":107,"u":0.000979,"cu":"g","l":-0.00138,"cl":"g"},{"i":108,"u":0.001205,"cu":"g","l":-0.00139,"cl":"g"},{"i":109,"u":0.001291,"cu":"g","l":-0.001376,"cl":"r"},
      {"i":110,"u":0.001376,"cu":"g","l":-0.00112,"cl":"r"},{"i":111,"u":0.001489,"cu":"g","l":-0.00095,"cl":"r"},{"i":112,"u":0.001404,"cu":"r","l":-0.00096,"cl":"g"},{"i":113,"u":0.001205,"cu":"r","l":-0.00095,"cl":"r"},{"i":114,"u":0.0012,"cu":"r","l":-0.000695,"cl":"r"},
      {"i":115,"u":0.001149,"cu":"r","l":-0.00044,"cl":"r"},{"i":116,"u":0.000979,"cu":"r","l":-0.000355,"cl":"g"},{"i":117,"u":0.000975,"cu":"r","l":-0.00036,"cl":"g"},{"i":118,"u":0.000837,"cu":"r","l":-0.000269,"cl":"r"},{"i":119,"u":0.00078,"cu":"r","l":-0.00002,"cl":"r"},
      {"i":120,"u":0.000695,"cu":"r","l":-0.000269,"cl":"g"},{"i":121,"u":0.000525,"cu":"r","l":-0.000156,"cl":"r"},{"i":122,"u":0.000269,"cu":"r","l":-0.00004,"cl":"g"},{"i":123,"u":0.000156,"cu":"r","l":-0.000269,"cl":"g"},{"i":124,"u":0.000298,"cu":"g","l":-0.000865,"cl":"g"},
      {"i":125,"u":0.000099,"cu":"r","l":-0.000695,"cl":"r"},{"i":126,"u":0.000184,"cu":"g","l":-0.000099,"cl":"r"},{"i":127,"u":0.000269,"cu":"g","l":-0.000525,"cl":"g"},{"i":128,"u":0.000099,"cu":"r","l":-0.00095,"cl":"g"},{"i":129,"u":0.00044,"cu":"g","l":-0.000695,"cl":"r"},
      {"i":130,"u":0.000865,"cu":"g","l":-0.0007,"cl":"r"},{"i":131,"u":0.000893,"cu":"g","l":-0.000355,"cl":"r"},{"i":132,"u":0.00078,"cu":"r","l":-0.00002,"cl":"r"},{"i":133,"u":0.000553,"cu":"r","l":-0.00002,"cl":"r"},{"i":134,"u":0.000355,"cu":"r","l":-0.000071,"cl":"r"},
      {"i":135,"u":0.000184,"cu":"r","l":-0.00002,"cl":"r"},{"i":136,"u":0.000184,"cu":"r","l":-0.000156,"cl":"g"},{"i":137,"u":0.00019,"cu":"g","l":-0.000496,"cl":"g"},{"i":138,"u":0.000355,"cu":"g","l":-0.00095,"cl":"g"},{"i":139,"u":0.000553,"cu":"g","l":-0.001205,"cl":"g"},
      {"i":140,"u":0.000865,"cu":"g","l":-0.00129,"cl":"g"},{"i":141,"u":0.001149,"cu":"g","l":-0.001253,"cl":"r"},{"i":142,"u":0.001291,"cu":"g","l":null,"cl":null},{"i":143,"u":0.001368,"cu":"g","l":null,"cl":null}
    ]
  },
  "vconcat": [
    {
      "width": 1224,
      "height": 471,
      "layer": [
        {
          "data": {"name": "candles"},
          "mark": {"type": "rule", "color": "black", "strokeWidth": 1, "clip": true},
          "encoding": {
            "x": {"field": "i", "type": "quantitative", "title": null, "scale": {"domain": [0, 153], "nice": false, "zero": false, "padding": 0},
                  "axis": {"values": [0,4,8,12,16,20,24,28,32,36,40,44,48,52,56,60,64,68,72,76,80,84,88,92,96,100,104,108,112,116,120,124,128,132,136,140,144,148,152], "tickCount": 60, "grid": true, "labels": false, "ticks": false, "domain": false, "title": null}},
            "y": {"field": "l", "type": "quantitative", "title": null, "scale": {"domain": [1.42519, 1.4382], "nice": false, "zero": false},
                  "axis": {"orient": "right", "values": [1.4261,1.427,1.4279,1.4288,1.4297,1.4306,1.4315,1.4324,1.4333,1.4342,1.4351,1.436,1.4369,1.4378], "tickCount": 30, "format": ".5f", "grid": true, "tickSize": 4, "labelPadding": 3, "domain": false, "labelFlush": false, "labelOverlap": false, "title": null}},
            "y2": {"field": "h"}
          }
        },
        {
          "data": {"name": "candles"},
          "mark": {"type": "bar", "size": 4, "stroke": "black", "strokeWidth": 1, "clip": true},
          "encoding": {
            "x": {"field": "i", "type": "quantitative", "title": null},
            "y": {"field": "o", "type": "quantitative", "title": null},
            "y2": {"field": "c"},
            "fill": {"condition": {"test": "datum.c >= datum.o", "value": "white"}, "value": "black"}
          }
        },
        {
          "data": {"name": "alligator"},
          "mark": {"type": "line", "strokeWidth": 2, "interpolate": "monotone", "clip": true},
          "encoding": {
            "x": {"field": "i", "type": "quantitative", "title": null},
            "y": {"field": "p", "type": "quantitative", "title": null},
            "color": {"field": "s", "type": "nominal", "scale": {"domain": ["jaw", "teeth", "lips"], "range": ["#0b4fd4", "#ff0000", "#00e600"]}, "legend": null}
          }
        },
        {
          "data": {"name": "fractals"},
          "transform": [{"filter": "datum.t === 'u'"}],
          "mark": {"type": "point", "shape": "M0,-1L-0.9,0.9L0,0.35Z", "size": 110, "filled": true, "opacity": 1, "fill": "#d2d2d2", "stroke": "#a0a0a0", "strokeWidth": 0.5, "yOffset": -9, "clip": true},
          "encoding": {
            "x": {"field": "i", "type": "quantitative", "title": null},
            "y": {"field": "p", "type": "quantitative", "title": null}
          }
        },
        {
          "data": {"name": "fractals"},
          "transform": [{"filter": "datum.t === 'u'"}],
          "mark": {"type": "point", "shape": "M0,-1L0.9,0.9L0,0.35Z", "size": 110, "filled": true, "opacity": 1, "fill": "#8c8c8c", "stroke": "#808080", "strokeWidth": 0.5, "yOffset": -9, "clip": true},
          "encoding": {
            "x": {"field": "i", "type": "quantitative", "title": null},
            "y": {"field": "p", "type": "quantitative", "title": null}
          }
        },
        {
          "data": {"name": "fractals"},
          "transform": [{"filter": "datum.t === 'd'"}],
          "mark": {"type": "point", "shape": "M0,1L-0.9,-0.9L0,-0.35Z", "size": 110, "filled": true, "opacity": 1, "fill": "#d2d2d2", "stroke": "#a0a0a0", "strokeWidth": 0.5, "yOffset": 8, "clip": true},
          "encoding": {
            "x": {"field": "i", "type": "quantitative", "title": null},
            "y": {"field": "p", "type": "quantitative", "title": null}
          }
        },
        {
          "data": {"name": "fractals"},
          "transform": [{"filter": "datum.t === 'd'"}],
          "mark": {"type": "point", "shape": "M0,1L0.9,-0.9L0,-0.35Z", "size": 110, "filled": true, "opacity": 1, "fill": "#8c8c8c", "stroke": "#808080", "strokeWidth": 0.5, "yOffset": 8, "clip": true},
          "encoding": {
            "x": {"field": "i", "type": "quantitative", "title": null},
            "y": {"field": "p", "type": "quantitative", "title": null}
          }
        },
        {
          "data": {"values": [{}]},
          "mark": {"type": "rule", "color": "#b40000", "strokeWidth": 1},
          "encoding": {"y": {"datum": 1.42586, "type": "quantitative", "title": null}}
        },
        {
          "data": {"name": "signal"},
          "mark": {"type": "point", "shape": "M-0.3,-1L0.3,-1L0.3,0.1L0.85,0.1L0,1L-0.85,0.1L-0.3,0.1Z", "size": 361, "filled": true, "opacity": 1, "fill": "#fff4f4", "stroke": "#ff3030", "strokeWidth": 1.2},
          "encoding": {
            "x": {"field": "i", "type": "quantitative", "title": null},
            "y": {"field": "p", "type": "quantitative", "title": null}
          }
        },
        {
          "data": {"values": [{}]},
          "mark": {"type": "rect", "fill": "#c80000", "clip": false},
          "encoding": {
            "x": {"datum": 153.5, "type": "quantitative", "title": null},
            "x2": {"datum": 158.4},
            "y": {"datum": 1.42599, "type": "quantitative", "title": null},
            "y2": {"datum": 1.42569}
          }
        },
        {
          "data": {"values": [{}]},
          "mark": {"type": "text", "align": "left", "baseline": "middle", "color": "white", "fontSize": 9, "clip": false},
          "encoding": {
            "x": {"datum": 153.95, "type": "quantitative", "title": null},
            "y": {"datum": 1.42584, "type": "quantitative", "title": null},
            "text": {"value": "1.42586"}
          }
        }
      ]
    },
    {
      "width": 1224,
      "height": 100,
      "layer": [
        {
          "data": {"name": "ao"},
          "mark": {"type": "bar", "size": 4, "clip": true},
          "encoding": {
            "x": {"field": "i", "type": "quantitative", "title": null, "scale": {"domain": [0, 153], "nice": false, "zero": false, "padding": 0},
                  "axis": {"values": [0,4,8,12,16,20,24,28,32,36,40,44,48,52,56,60,64,68,72,76,80,84,88,92,96,100,104,108,112,116,120,124,128,132,136,140,144,148,152], "tickCount": 60, "grid": true, "labels": false, "ticks": false, "domain": false, "title": null}},
            "y": {"field": "v", "type": "quantitative", "title": null, "scale": {"domain": [-0.008424, 0.004992], "nice": false, "zero": false},
                  "axis": {"orient": "right", "values": [0.004992, 0, -0.008424], "tickCount": 10, "labelExpr": "(datum.value < 0 ? '-' : '') + format(abs(datum.value), '.6f')", "labelFlush": true, "grid": true, "gridOpacity": {"condition": {"test": "datum.value === 0", "value": 1}, "value": 0}, "tickSize": 4, "labelPadding": 3, "domain": false, "title": null}},
            "y2": {"datum": 0},
            "color": {"field": "d", "type": "nominal", "scale": {"domain": ["g", "r"], "range": ["#008000", "#ff0000"]}, "legend": null}
          }
        },
        {
          "data": {"values": [{}]},
          "mark": {"type": "text", "align": "left", "baseline": "top", "dx": 4, "dy": 5, "color": "black", "fontSize": 9},
          "encoding": {
            "x": {"datum": 0, "type": "quantitative", "title": null},
            "y": {"datum": 0.004992, "type": "quantitative", "title": null},
            "text": {"value": "AOcust -0.002607"}
          }
        }
      ]
    },
    {
      "width": 1224,
      "height": 100,
      "layer": [
        {
          "data": {"name": "ac"},
          "mark": {"type": "bar", "size": 4, "clip": true},
          "encoding": {
            "x": {"field": "i", "type": "quantitative", "title": null, "scale": {"domain": [0, 153], "nice": false, "zero": false, "padding": 0},
                  "axis": {"values": [0,4,8,12,16,20,24,28,32,36,40,44,48,52,56,60,64,68,72,76,80,84,88,92,96,100,104,108,112,116,120,124,128,132,136,140,144,148,152], "tickCount": 60, "grid": true, "labels": false, "ticks": false, "domain": false, "title": null}},
            "y": {"field": "v", "type": "quantitative", "title": null, "scale": {"domain": [-0.0019328, 0.0025288], "nice": false, "zero": false},
                  "axis": {"orient": "right", "values": [0.0025288, 0, -0.0019328], "tickCount": 10, "labelExpr": "(datum.value < 0 ? '-' : '') + format(abs(datum.value), '.7f')", "labelFlush": true, "grid": true, "gridOpacity": {"condition": {"test": "datum.value === 0", "value": 1}, "value": 0}, "tickSize": 4, "labelPadding": 3, "domain": false, "title": null}},
            "y2": {"datum": 0},
            "color": {"field": "d", "type": "nominal", "scale": {"domain": ["g", "r"], "range": ["#008000", "#ff0000"]}, "legend": null}
          }
        },
        {
          "data": {"values": [{}]},
          "mark": {"type": "text", "align": "left", "baseline": "top", "dx": 4, "dy": 5, "color": "black", "fontSize": 9},
          "encoding": {
            "x": {"datum": 0, "type": "quantitative", "title": null},
            "y": {"datum": 0.0025288, "type": "quantitative", "title": null},
            "text": {"value": "ACcust -0.0011103"}
          }
        }
      ]
    },
    {
      "width": 1224,
      "height": 100,
      "layer": [
        {
          "data": {"name": "gator"},
          "mark": {"type": "bar", "size": 4, "clip": true},
          "encoding": {
            "x": {"field": "i", "type": "quantitative", "title": null, "scale": {"domain": [0, 153], "nice": false, "zero": false, "padding": 0},
                  "axis": {"values": [0,4,8,12,16,20,24,28,32,36,40,44,48,52,56,60,64,68,72,76,80,84,88,92,96,100,104,108,112,116,120,124,128,132,136,140,144,148,152], "tickCount": 60, "grid": true, "domain": false, "ticks": true, "tickSize": 5,
                           "tickOpacity": {"condition": {"test": "datum.value % 8 === 0 && datum.value <= 136", "value": 1}, "value": 0},
                           "labelExpr": "datum.value % 8 === 0 && datum.value <= 136 ? ['5 Feb 2025','5 Feb 23:00','6 Feb 07:00','6 Feb 15:00','6 Feb 23:00','7 Feb 07:00','7 Feb 15:00','7 Feb 23:00','10 Feb 07:00','10 Feb 15:00','10 Feb 23:00','11 Feb 07:00','11 Feb 15:00','11 Feb 23:00','12 Feb 07:00','12 Feb 15:00','12 Feb 23:00','13 Feb 07:00'][datum.value / 8] : ''",
                           "labelAlign": "left", "labelOffset": 1, "labelPadding": 1, "labelOverlap": false, "labelFlush": false, "labelBound": false, "title": null}},
            "y": {"field": "u", "type": "quantitative", "title": null, "scale": {"domain": [-0.003364, 0.005145], "nice": false, "zero": false},
                  "axis": {"orient": "right", "values": [0.005145, 0, -0.003364], "tickCount": 10, "labelExpr": "(datum.value < 0 ? '-' : '') + format(abs(datum.value), '.6f')", "labelFlush": true, "grid": true, "gridOpacity": {"condition": {"test": "datum.value === 0", "value": 1}, "value": 0}, "tickSize": 4, "labelPadding": 3, "domain": false, "title": null}},
            "y2": {"datum": 0},
            "color": {"field": "cu", "type": "nominal", "scale": {"domain": ["g", "r"], "range": ["#008000", "#ff0000"]}, "legend": null}
          }
        },
        {
          "data": {"name": "gator"},
          "transform": [{"filter": "isValid(datum.l)"}],
          "mark": {"type": "bar", "size": 4, "clip": true},
          "encoding": {
            "x": {"field": "i", "type": "quantitative", "title": null},
            "y": {"field": "l", "type": "quantitative", "title": null},
            "y2": {"datum": 0},
            "color": {"field": "cl", "type": "nominal", "legend": null}
          }
        },
        {
          "data": {"values": [{}]},
          "mark": {"type": "text", "align": "left", "baseline": "top", "dx": 4, "dy": 5, "color": "black", "fontSize": 9},
          "encoding": {
            "x": {"datum": 0, "type": "quantitative", "title": null},
            "y": {"datum": 0.005145, "type": "quantitative", "title": null},
            "text": {"value": "GatorCust 0.001368 -0.001253"}
          }
        }
      ]
    }
  ]
}
